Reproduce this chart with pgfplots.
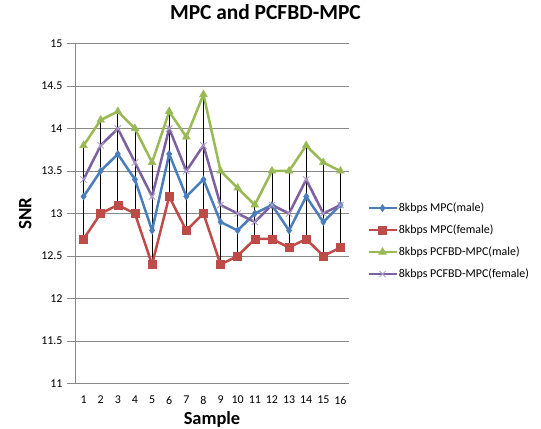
\documentclass[border=0pt]{standalone}
\usepackage{pgfplots}
\pgfplotsset{compat=1.18}
\usepackage{fontspec}
\setmainfont{Carlito}

\definecolor{mblue}{HTML}{4A7EBB}
\definecolor{mred}{HTML}{BE4B48}
\definecolor{mgreen}{HTML}{98B954}
\definecolor{mpurple}{HTML}{7D60A0}
\definecolor{gridgray}{HTML}{888888}

\begin{document}
\begin{tikzpicture}
\useasboundingbox (0,0) rectangle (541bp,429bp);
\begin{axis}[
    at={(75bp,45.5bp)}, anchor=south west,
    scale only axis,
    width=274bp, height=340bp,
    xmin=0.5, xmax=16.5,
    ymin=11, ymax=15,
    xtick={1,...,16},
    ytick={11,11.5,...,15},
    yticklabels={11,11.5,12,12.5,13,13.5,14,14.5,15},
    axis x line=bottom, axis y line=left,
    axis line style={-, gridgray, line width=0.8bp},
    ymajorgrids,
    grid style={gridgray, line width=0.8bp},
    xtick style={draw=none},
    ytick style={gridgray, line width=0.8bp},
    tick align=outside,
    major tick length=8bp,
    tick label style={font=\fontsize{12}{14}\selectfont},
    /pgf/number format/assume math mode=true,
    xticklabel style={yshift=-1bp},
    yticklabel style={xshift=-1bp},
    title={\textbf{MPC and PCFBD-MPC}},
    title style={font=\fontsize{21.5}{24}\selectfont, at={(rel axis cs:0.695,1.076)}, anchor=center},
    xlabel={\textbf{Sample}},
    xlabel style={font=\fontsize{18.5}{20}\selectfont, at={(rel axis cs:0.5,-0.105)}, anchor=center},
    ylabel={\textbf{SNR}},
    ylabel style={font=\fontsize{19}{21}\selectfont, at={(rel axis cs:-0.182,0.5)}, anchor=center, rotate=0},
    unbounded coords=jump,
    legend style={draw=none, fill=none, at={(rel axis cs:1.066,0.537)}, anchor=north west,
        font=\fontsize{12}{14}\selectfont, row sep=8bp, inner sep=0pt,
        nodes={inner sep=1pt, text height=9bp, text depth=3bp}},
    legend cell align=left,
    legend image code/.code={\draw[mark repeat=2,mark phase=2] plot coordinates {(0bp,0bp)(14bp,0bp)(28bp,0bp)};},
    clip=false,
]
% high-low lines
\addplot[black, line width=0.8bp, forget plot] coordinates {
(1,12.7) (1,13.8) (1,nan)
(2,13.0) (2,14.1) (2,nan)
(3,13.1) (3,14.2) (3,nan)
(4,13.0) (4,14.0) (4,nan)
(5,12.4) (5,13.6) (5,nan)
(6,13.2) (6,14.2) (6,nan)
(7,12.8) (7,13.9) (7,nan)
(8,13.0) (8,14.4) (8,nan)
(9,12.4) (9,13.5) (9,nan)
(10,12.5) (10,13.3) (10,nan)
(11,12.7) (11,13.1) (11,nan)
(12,12.7) (12,13.5) (12,nan)
(13,12.6) (13,13.5) (13,nan)
(14,12.7) (14,13.8) (14,nan)
(15,12.5) (15,13.6) (15,nan)
(16,12.6) (16,13.5)
};
\addplot[mblue, line width=2.5bp, mark=diamond*, mark size=3.5bp, mark options={solid, fill=mblue, line width=0.5bp}] coordinates {
(1,13.2) (2,13.5) (3,13.7) (4,13.4) (5,12.8) (6,13.7) (7,13.2) (8,13.4)
(9,12.9) (10,12.8) (11,13.0) (12,13.1) (13,12.8) (14,13.2) (15,12.9) (16,13.1)
};
\addlegendentry{8kbps MPC(male)}
\addplot[mred, line width=2.5bp, mark=square*, mark size=4bp, mark options={solid, fill=mred, line width=0.5bp}] coordinates {
(1,12.7) (2,13.0) (3,13.1) (4,13.0) (5,12.4) (6,13.2) (7,12.8) (8,13.0)
(9,12.4) (10,12.5) (11,12.7) (12,12.7) (13,12.6) (14,12.7) (15,12.5) (16,12.6)
};
\addlegendentry{8kbps MPC(female)}
\addplot[mgreen, line width=2.5bp, mark=triangle*, mark size=4.5bp, mark options={solid, fill=mgreen, line width=0.5bp}] coordinates {
(1,13.8) (2,14.1) (3,14.2) (4,14.0) (5,13.6) (6,14.2) (7,13.9) (8,14.4)
(9,13.5) (10,13.3) (11,13.1) (12,13.5) (13,13.5) (14,13.8) (15,13.6) (16,13.5)
};
\addlegendentry{8kbps PCFBD-MPC(male)}
\addplot[mpurple, line width=2.5bp, mark=x, mark size=4.5bp, mark options={solid, draw=mpurple!60, line width=0.8bp}] coordinates {
(1,13.4) (2,13.8) (3,14.0) (4,13.6) (5,13.2) (6,14.0) (7,13.5) (8,13.8)
(9,13.1) (10,13.0) (11,12.9) (12,13.1) (13,13.0) (14,13.4) (15,13.0) (16,13.1)
};
\addlegendentry{8kbps PCFBD-MPC(female)}
\end{axis}
\end{tikzpicture}
\end{document}
